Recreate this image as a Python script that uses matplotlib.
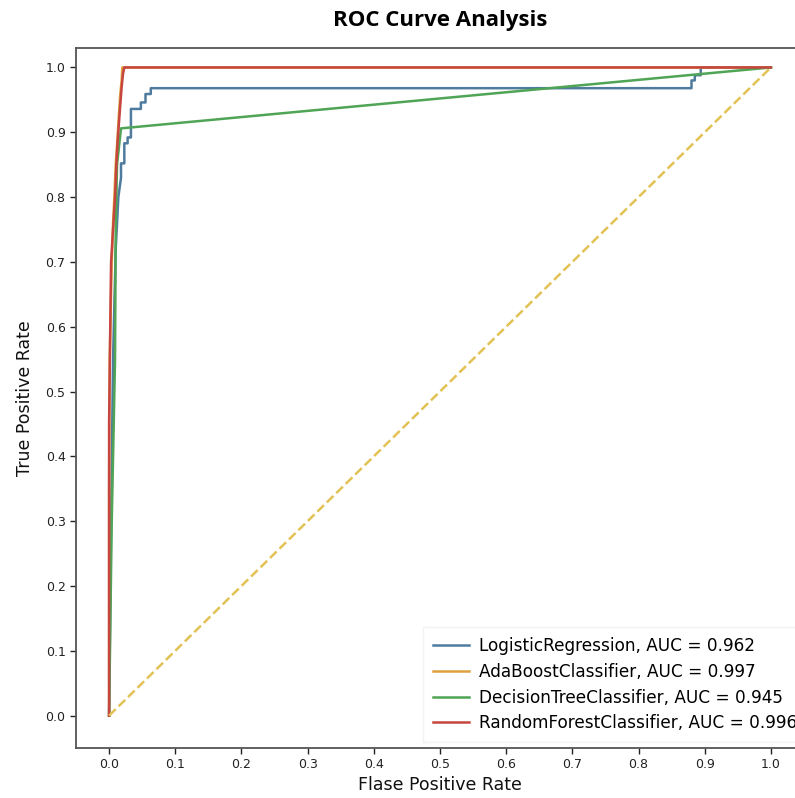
import matplotlib
matplotlib.use("Agg")
import matplotlib.pyplot as plt

# ROC data
lr_fpr = [0, 0.003, 0.006, 0.010, 0.014, 0.018, 0.018, 0.023, 0.023, 0.028, 0.028, 0.033, 0.033,
          0.048, 0.048, 0.055, 0.055, 0.063, 0.063, 0.880, 0.880, 0.885, 0.885, 0.894, 0.894, 1.0]
lr_tpr = [0, 0.30, 0.55, 0.72, 0.80, 0.83, 0.852, 0.852, 0.883, 0.883, 0.892, 0.892, 0.936,
          0.936, 0.946, 0.946, 0.959, 0.959, 0.968, 0.968, 0.980, 0.980, 0.988, 0.988, 1.0, 1.0]

ada_fpr = [0, 0.0, 0.001, 0.004, 0.006, 0.008, 0.010, 0.012, 0.015, 0.017, 0.019, 0.020, 1.0]
ada_tpr = [0, 0.35, 0.55, 0.70, 0.76, 0.80, 0.85, 0.88, 0.93, 0.96, 0.98, 1.0, 1.0]

dt_fpr = [0, 0.004, 0.009, 0.010, 0.012, 0.018, 1.0]
dt_tpr = [0, 0.30, 0.55, 0.75, 0.85, 0.906, 1.0]

rf_fpr = [0, 0.0, 0.0015, 0.003, 0.006, 0.009, 0.011, 0.013, 0.016, 0.019, 0.021, 0.023, 1.0]
rf_tpr = [0, 0.45, 0.58, 0.70, 0.75, 0.80, 0.85, 0.887, 0.93, 0.97, 0.99, 1.0, 1.0]

labels = ["LogisticRegression, AUC = 0.962",
          "AdaBoostClassifier, AUC = 0.997",
          "DecisionTreeClassifier, AUC = 0.945",
          "RandomForestClassifier, AUC = 0.996"]
colors = ["#4f7c9e", "#dea03e", "#4fa455", "#c6463f"]

fig = plt.figure(figsize=(7.95, 7.98), dpi=100)
ax = fig.add_axes([76/795, 1 - 748/798, (804 - 76)/795, (748 - 48)/798])

curves = [(lr_fpr, lr_tpr), (ada_fpr, ada_tpr), (dt_fpr, dt_tpr), (rf_fpr, rf_tpr)]
for (f, t), lab, c in zip(curves, labels, colors):
    ax.plot(f, t, color=c, lw=1.8, label=lab)

ax.plot([0, 1], [0, 1], color="#e2c255", lw=1.8, ls="--")

ax.set_xlim(-0.05, 1.05)
ax.set_ylim(-0.05, 1.03)
ticks = [0.0, 0.1, 0.2, 0.3, 0.4, 0.5, 0.6, 0.7, 0.8, 0.9, 1.0]
ax.set_xticks(ticks)
ax.set_yticks(ticks)
ax.set_xticklabels([f"{t:.1f}" for t in ticks])
ax.set_yticklabels([f"{t:.1f}" for t in ticks])
ax.tick_params(labelsize=9, colors="#222222", length=4, width=1)

for s in ax.spines.values():
    s.set_color("#555555")
    s.set_linewidth(1.3)

ax.set_xlabel("Flase Positive Rate", fontsize=12.5, color="#111111", labelpad=3)
ax.set_ylabel("True Positive Rate", fontsize=12.5, color="#111111", labelpad=8)
ax.set_title("ROC Curve Analysis", fontsize=16, fontweight="bold",
             family=["Open Sans", "DejaVu Sans"], pad=16)

leg = ax.legend(loc="lower left", bbox_to_anchor=(0.4766, 0.008), borderaxespad=0,
                fontsize=12.2, frameon=True, fancybox=False,
                borderpad=0.6, labelspacing=0.45, handlelength=2.1, handletextpad=0.6)
leg.get_frame().set_edgecolor("#f0f0f0")

fig.savefig("out.png", dpi=100)
